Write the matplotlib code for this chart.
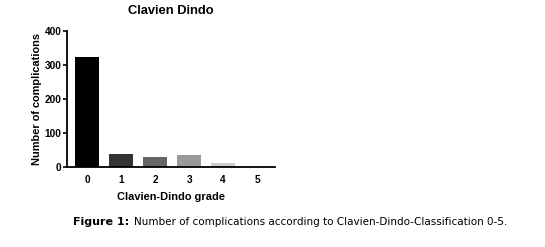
import numpy as np
import matplotlib.pyplot as plt

grades = ["0", "1", "2", "3", "4", "5"]
counts = [322, 37, 29, 35, 10, 2]
colors = ["#000000", "#333333", "#666666", "#999999", "#cccccc", "#f2f2f2"]

fig = plt.figure(figsize=(5.45, 2.47), dpi=100)
ax = fig.add_axes([0.123, 0.325, 0.382, 0.551])

x = np.arange(len(grades))
ax.bar(x, counts, width=0.72, color=colors, edgecolor="none")

ax.set_xlim(-0.59, 5.53)
ax.set_ylim(0, 400)
ax.set_yticks([0, 100, 200, 300, 400])
ax.set_xticks(x)
ax.set_xticklabels(grades)

for s in ["top", "right"]:
    ax.spines[s].set_visible(False)
for s in ["left", "bottom"]:
    ax.spines[s].set_linewidth(1.3)
ax.tick_params(axis="y", length=3, width=1.2, labelsize=7.3, pad=1)
ax.tick_params(axis="x", length=0, labelsize=7.3, pad=6)
for lab in ax.get_xticklabels() + ax.get_yticklabels():
    lab.set_fontfamily("Liberation Sans")
    lab.set_fontweight("bold")

ax.set_title("Clavien Dindo", fontsize=9.3, fontweight="bold",
             fontfamily="Liberation Sans", pad=12)
ax.set_ylabel("Number of complications", fontsize=7.9, fontweight="bold",
              fontfamily="Liberation Sans", labelpad=2)
ax.set_xlabel("Clavien-Dindo grade", fontsize=7.9, fontweight="bold",
              fontfamily="Liberation Sans", labelpad=5)

fig.text(0.134, 0.1, "Figure 1:", fontsize=8, fontweight="bold",
         fontfamily="DejaVu Sans", va="center")
fig.text(0.246, 0.1, "Number of complications according to Clavien-Dindo-Classification 0-5.",
         fontsize=7.5, fontfamily="DejaVu Sans", va="center")

fig.savefig("out.png", dpi=100)
